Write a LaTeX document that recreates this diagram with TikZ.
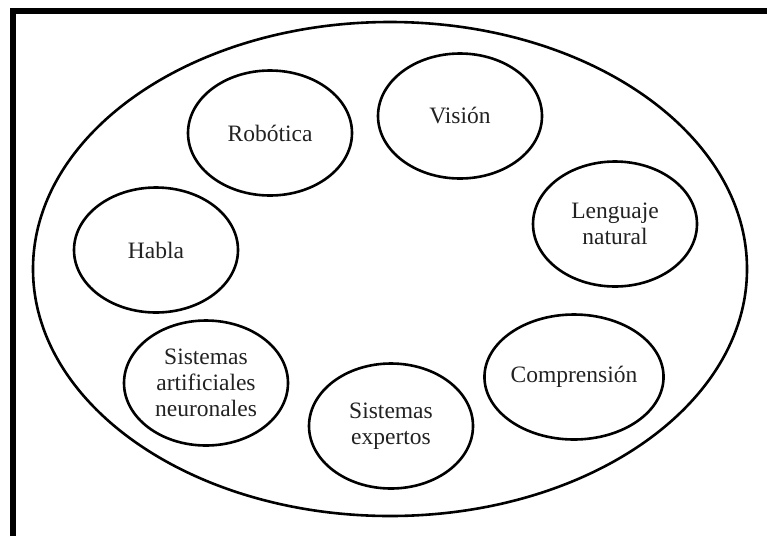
\documentclass[tikz,border=0pt]{standalone}
\usepackage{fontspec}
\setmainfont{Liberation Serif}
\usetikzlibrary{shapes.geometric}
\definecolor{ink}{HTML}{222222}
\tikzset{
  area/.style={draw=black, line width=2.6pt, ellipse, inner sep=0pt,
    minimum width=164pt, minimum height=125pt, text=ink, align=center,
    font=\fontsize{23.5}{26}\selectfont},
  outer/.style={draw=black, line width=2.6pt, ellipse, inner sep=0pt,
    minimum width=714pt, minimum height=494pt},
  frameline/.style={draw=black, line width=6.5pt}
}
\begin{document}
\begin{tikzpicture}[x=1pt,y=-1pt]
\useasboundingbox (0,0) rectangle (767,536);
\fill[white] (0,0) rectangle (767,536);
\coordinate (fa) at (13,536);
\coordinate (fb) at (13,10.8);
\coordinate (fc) at (767,10.8);
\draw[frameline] (fa) -- (fb) -- (fc);
\node[outer] (all) at (390,269) {};
\node[area] (rob) at (270,133) {Robótica};
\node[area] (vis) at (460,116) {Visión};
\node[area] (len) at (615,224) {Lenguaje\\natural};
\node[area] (hab) at (156,250) {Habla};
\node[area] (san) at (206,383) {Sistemas\\artificiales\\neuronales};
\node[area] (sex) at (391,426) {Sistemas\\expertos};
\node[area] (com) at (574,377) {Comprensión};
\end{tikzpicture}
\end{document}
